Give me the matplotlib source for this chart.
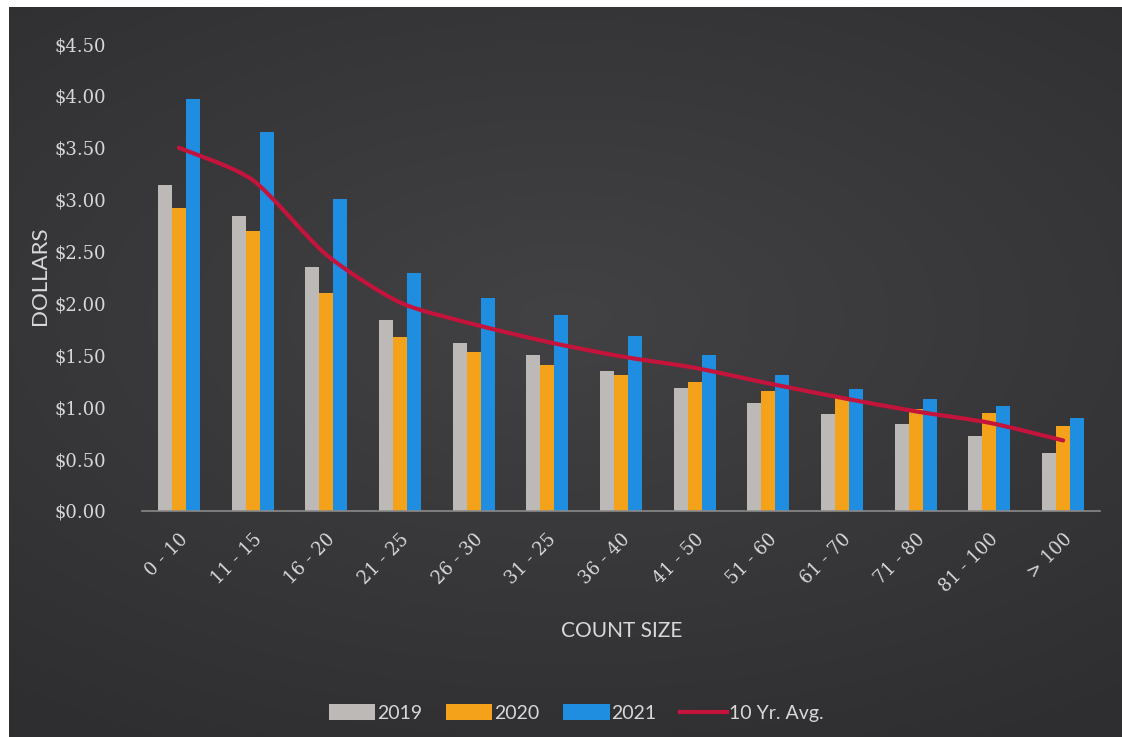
import numpy as np
import matplotlib.pyplot as plt
from matplotlib.path import Path
from matplotlib.patches import PathPatch

# data
categories = ['0 - 10', '11 - 15', '16 - 20', '21 - 25', '26 - 30', '31 - 25', '36 - 40',
              '41 - 50', '51 - 60', '61 - 70', '71 - 80', '81 - 100', '> 100']
y2019 = [3.14, 2.84, 2.35, 1.84, 1.62, 1.50, 1.35, 1.19, 1.04, 0.93, 0.84, 0.72, 0.56]
y2020 = [2.92, 2.70, 2.10, 1.68, 1.53, 1.41, 1.31, 1.24, 1.16, 1.09, 0.98, 0.94, 0.82]
y2021 = [3.97, 3.65, 3.01, 2.29, 2.05, 1.89, 1.69, 1.50, 1.31, 1.18, 1.08, 1.01, 0.90]
avg10 = [3.50, 3.19, 2.47, 2.01, 1.80, 1.63, 1.49, 1.38, 1.23, 1.09, 0.96, 0.85, 0.68]
yticks = [0, 0.5, 1.0, 1.5, 2.0, 2.5, 3.0, 3.5, 4.0, 4.5]

c_gray = '#bdb9b6'
c_orange = '#f3a21a'
c_blue = '#1f8ee0'
c_red = '#c4143c'
c_text = '#d8d8d8'

fig = plt.figure(figsize=(11.22, 7.37), dpi=100, facecolor='white')

# dark background, slightly lighter in the middle
bg = fig.add_axes([9 / 1122, 0, 1 - 9 / 1122, 1 - 7 / 737])
bg.set_axis_off()
gx, gy = np.meshgrid(np.linspace(-1, 1, 300), np.linspace(-1, 1, 200))
r = np.sqrt((gx * 0.9) ** 2 + ((gy + 0.15) * 1.1) ** 2)
shade = np.clip(1 - r / 1.5, 0, 1)
lo = np.array([46, 46, 48]) / 255
hi = np.array([66, 65, 68]) / 255
img = lo + (hi - lo) * shade[..., None]
bg.imshow(img, aspect='auto', extent=[0, 1, 0, 1], interpolation='bilinear')

ax = fig.add_axes([142 / 1122, 1 - 511 / 737, (1100 - 142) / 1122, (511 - 44) / 737])
ax.set_facecolor('none')

x = np.arange(len(categories))
w = 0.19
b1 = ax.bar(x - w, y2019, w, color=c_gray, label='2019', zorder=2)
b2 = ax.bar(x, y2020, w, color=c_orange, label='2020', zorder=2)
b3 = ax.bar(x + w, y2021, w, color=c_blue, label='2021', zorder=2)

# smoothed line through the averages
pts = np.column_stack([x, avg10]).astype(float)
ext = np.vstack([pts[0], pts, pts[-1]])
verts = [tuple(pts[0])]
codes = [Path.MOVETO]
k = 1 / 8
for i in range(len(pts) - 1):
    p0, p1, p2, p3 = ext[i], ext[i + 1], ext[i + 2], ext[i + 3]
    c1 = p1 + (p2 - p0) * k
    c2 = p2 - (p3 - p1) * k
    verts += [tuple(c1), tuple(c2), tuple(p2)]
    codes += [Path.CURVE4] * 3
ax.add_patch(PathPatch(Path(verts, codes), facecolor='none', edgecolor=c_red,
                       lw=3, capstyle='round', zorder=3))
ln, = ax.plot([], [], color=c_red, lw=3, label='10 Yr. Avg.')

ax.set_xlim(-0.5, len(categories) - 0.5)
ax.set_ylim(0, 4.5)
ax.set_yticks(yticks)
ax.set_yticklabels([f'${v:.2f}' for v in yticks], family='DejaVu Serif',
                   fontsize=13, color=c_text)
ax.set_xticks(x)
ax.set_xticklabels(categories, rotation=45, ha='right', va='top', rotation_mode='anchor',
                   family='DejaVu Serif', fontsize=13, color=c_text)
ax.tick_params(axis='both', length=0)
ax.tick_params(axis='y', pad=26)
ax.tick_params(axis='x', pad=14)
for s in ['top', 'right', 'left']:
    ax.spines[s].set_visible(False)
ax.spines['bottom'].set_color('#8a8a8a')
ax.spines['bottom'].set_linewidth(1.2)

fig.text(40 / 1122, 1 - 276 / 737, 'DOLLARS', rotation=90, ha='center', va='center',
         fontsize=16, color=c_text, family='Lato')
fig.text(622 / 1122, 1 - 631 / 737, 'COUNT SIZE', ha='center', va='center',
         fontsize=15, color=c_text, family='Lato')

leg = fig.legend([b1, b2, b3, ln], ['2019', '2020', '2021', '10 Yr. Avg.'],
                 loc='center', bbox_to_anchor=(576 / 1122, 1 - 713 / 737), ncol=4,
                 frameon=False, fontsize=14, handlelength=2.4, handleheight=0.9,
                 handletextpad=0.1, columnspacing=1.2)
for t in leg.get_texts():
    t.set_color(c_text)
    t.set_family('Lato')

fig.savefig('out.png', dpi=100, facecolor='white')
